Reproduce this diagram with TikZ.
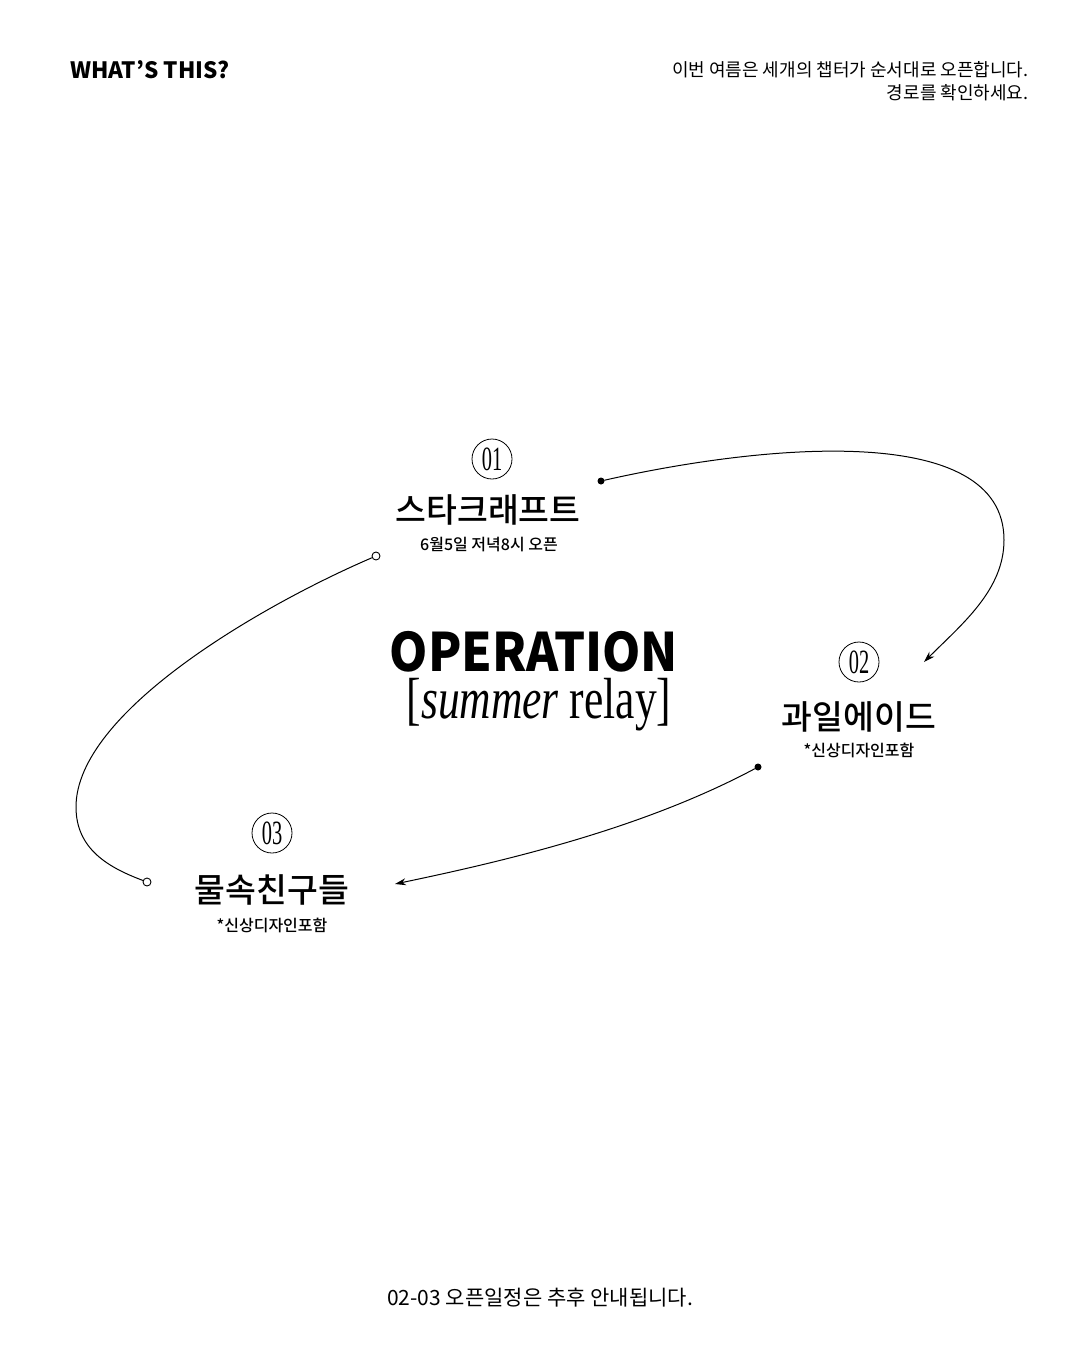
\documentclass[tikz,border=0pt]{standalone}
\usepackage{fontspec}
\setmainfont{Noto Sans CJK KR}
\newfontfamily\medfont{Noto Sans CJK KR Medium}
\newfontfamily\numfont{Liberation Serif}
\usetikzlibrary{arrows.meta}

\begin{document}
\begin{tikzpicture}[x=1pt, y=-1pt, line join=round, line cap=round]
    \tikzset{
      headline/.style={font=\fontsize{22.5}{22.5}\selectfont\bfseries},
      intro/.style={font=\fontsize{18}{23}\selectfont, align=right},
      chapter/.style={font=\medfont\fontsize{33.5}{33.5}\selectfont},
      note/.style={font=\medfont\fontsize{16}{16}\selectfont},
      numring/.style={draw, circle, minimum size=40pt, inner sep=0pt, line width=0.8pt, font=\numfont\fontsize{34}{34}\selectfont},
      dotfull/.style={circle, fill, inner sep=0pt, minimum size=7pt},
      dotopen/.style={circle, draw, fill=white, line width=0.9pt, inner sep=0pt, minimum size=8pt},
      link/.style={line width=1pt},
      linkarrow/.style={link, -{Stealth[length=11pt, width=7pt]}}
    }
    \useasboundingbox (0,0) rectangle (1080,1350);
    % header
    \node[headline, anchor=west] (whats) at (67,70) {WHAT’S THIS?};
    \node[intro, anchor=east] (introtext) at (1032,81) {이번 여름은 세개의 챕터가 순서대로 오픈합니다.\\경로를 확인하세요.};
    % title
    \node[font=\fontsize{53}{53}\selectfont\bfseries] (operation) at (534,652) {\scalebox{0.92}[1]{OPERATION}};
    \node[font=\numfont\fontsize{58}{58}\selectfont] (relay) at (539,705) {\scalebox{0.75}[1]{[\textit{summer} relay]}};
    % chapters
    \node[numring] (num1) at (492,459) {\scalebox{0.6}[1]{01}};
    \node[chapter] (chap1) at (488,510) {스타크래프트};
    \node[note] (sub1) at (489,545) {6월5일 저녁8시 오픈};
    \node[numring] (num2) at (859,662) {\scalebox{0.6}[1]{02}};
    \node[chapter] (chap2) at (859,717) {과일에이드};
    \node[note] (sub2) at (859,750) {*신상디자인포함};
    \node[numring] (num3) at (272,833) {\scalebox{0.6}[1]{03}};
    \node[chapter] (chap3) at (272,890) {물속친구들};
    \node[note] (sub3) at (272,925) {*신상디자인포함};
    % route
    \node[dotfull] (start1) at (601,481) {};
    \node[dotfull] (start2) at (758,767) {};
    \coordinate (turn1) at (1004,540);
    \coordinate (tip2) at (924,662);
    \coordinate (tip3) at (395,884);
    \coordinate (turn3) at (76,807);
    \draw[linkarrow] (start1) .. controls (760,445) and (1004,420) .. (turn1)
      .. controls (1004,590) and (962,624) .. (tip2);
    \draw[linkarrow] (start2) .. controls (640,830) and (500,862) .. (tip3);
    \node[dotopen] (open1) at (376,556) {};
    \node[dotopen] (open3) at (147,882) {};
    \draw[link] (open1) .. controls (262,605) and (76,712) .. (turn3)
      .. controls (76,850) and (110,868) .. (open3);
    % footer
    \node[font=\fontsize{21}{21}\selectfont] (footer) at (540,1298) {02-03 오픈일정은 추후 안내됩니다.};
\end{tikzpicture}
\end{document}
